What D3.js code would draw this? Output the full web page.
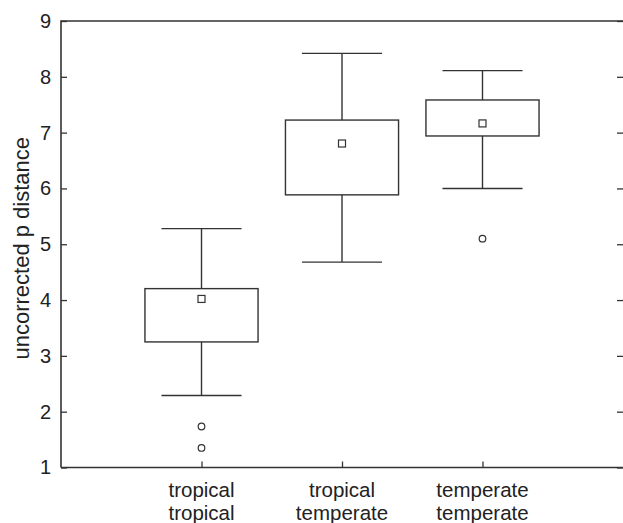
<!DOCTYPE html>
<html><head><meta charset="utf-8">
<script src="https://cdn.jsdelivr.net/npm/d3@7"></script>
<style>body{margin:0;background:#fff}svg{display:block}text{font-family:"Liberation Sans",Arial,sans-serif;fill:#222}</style>
</head><body><svg id="c" width="623" height="523"></svg>
<script>
const categories = [["tropical","tropical"],["tropical","temperate"],["temperate","temperate"]];
const whiskerLow  = [2.29, 4.68, 6.00];
const boxLow      = [3.25, 5.885, 6.94];
const boxHigh     = [4.205, 7.225, 7.585];
const whiskerHigh = [5.28, 8.42, 8.11];
const means       = [4.02, 6.805, 7.165];
const outliers    = [[1.735, 1.35], [], [5.10]];
const yTicks = [1,2,3,4,5,6,7,8,9];
const yLabel = "uncorrected p distance";

const svg = d3.select("#c");
const L = 61, R = 623, T = 21, B = 467.5;
const x = d3.scaleLinear().domain([0,4]).range([L,R]);
const y = d3.scaleLinear().domain([1,9]).range([B,T]);
const stroke = "#333";
const boxW = 0.805, capW = 0.57;

// frame: left, bottom, top
svg.append("path").attr("d",`M${L},${B}V${T}H${R}`).attr("fill","none").attr("stroke",stroke).attr("stroke-width",1.6);
svg.append("line").attr("x1",L).attr("x2",R).attr("y1",B).attr("y2",B).attr("stroke",stroke).attr("stroke-width",1.6);

// left axis: inward ticks
const yl = svg.append("g").attr("transform",`translate(${L},0)`)
  .call(d3.axisLeft(y).tickValues(yTicks).tickSize(-6).tickPadding(10).tickFormat(d3.format("d")));
yl.select(".domain").remove();
yl.selectAll("line").attr("stroke",stroke).attr("stroke-width",1.3);
yl.selectAll("text").attr("font-size",20).attr("fill","#222").attr("font-family","Liberation Sans, Arial, sans-serif");

// right ticks inward
const yr = svg.append("g").attr("transform",`translate(${R},0)`)
  .call(d3.axisRight(y).tickValues(yTicks).tickSize(-6).tickFormat(""));
yr.select(".domain").remove();
yr.selectAll("line").attr("stroke",stroke).attr("stroke-width",1.3);

// bottom ticks inward
const xb = svg.append("g").attr("transform",`translate(0,${B})`)
  .call(d3.axisBottom(x).tickValues([1,2,3]).tickSize(-6).tickFormat(""));
xb.select(".domain").remove();
xb.selectAll("line").attr("stroke",stroke).attr("stroke-width",1.3);

// category labels
categories.forEach((c,i)=>{
  const t = svg.append("text").attr("text-anchor","middle").attr("font-size",20.5);
  c.forEach((s,j)=>t.append("tspan").attr("x",x(i+1)).attr("y",497+j*23).text(s));
});

// y label
svg.append("text").attr("transform",`translate(29,${(T+B)/2+4}) rotate(-90)`)
  .attr("text-anchor","middle").attr("font-size",22).text(yLabel);

// boxes
const g = svg.append("g").attr("fill","none").attr("stroke",stroke).attr("stroke-width",1.4);
categories.forEach((c,i)=>{
  const cx = x(i+1);
  const bw = x(boxW/2)-x(0), cw = x(capW/2)-x(0);
  g.append("line").attr("x1",cx).attr("x2",cx).attr("y1",y(whiskerHigh[i])).attr("y2",y(boxHigh[i]));
  g.append("line").attr("x1",cx).attr("x2",cx).attr("y1",y(boxLow[i])).attr("y2",y(whiskerLow[i]));
  g.append("line").attr("x1",cx-cw).attr("x2",cx+cw).attr("y1",y(whiskerHigh[i])).attr("y2",y(whiskerHigh[i]));
  g.append("line").attr("x1",cx-cw).attr("x2",cx+cw).attr("y1",y(whiskerLow[i])).attr("y2",y(whiskerLow[i]));
  g.append("rect").attr("x",cx-bw).attr("width",2*bw).attr("y",y(boxHigh[i])).attr("height",y(boxLow[i])-y(boxHigh[i]));
  g.append("rect").attr("x",cx-3.5).attr("y",y(means[i])-3.5).attr("width",7).attr("height",7).attr("stroke-width",1.2);
  outliers[i].forEach(v=>g.append("circle").attr("cx",cx).attr("cy",y(v)).attr("r",3.3).attr("stroke-width",1.2));
});
</script></body></html>
